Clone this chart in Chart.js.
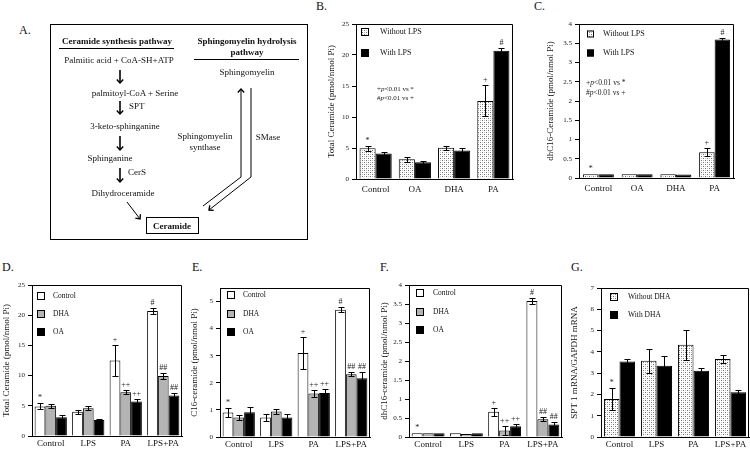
<!DOCTYPE html>
<html><head><meta charset="utf-8">
<script src="https://cdn.jsdelivr.net/npm/chart.js@4"></script>
<style>
html,body{margin:0;padding:0;background:#fff;width:750px;height:450px;overflow:hidden;position:relative}
canvas{position:absolute}
.lbl{position:absolute;font:12px "Liberation Serif";color:#111;line-height:14px}
#panelA{filter:grayscale(100%)}
</style></head><body>
<svg id="panelA" width="320" height="245" style="position:absolute;left:0;top:0" font-family="Liberation Serif" font-size="9" fill="#111">
<defs>
<marker id="ah" markerWidth="8" markerHeight="8" refX="4" refY="4" orient="auto" markerUnits="userSpaceOnUse">
<path d="M0.5,0.8 L4,4 L0.5,7.2" fill="none" stroke="#000" stroke-width="1.4"/>
</marker>
</defs>
<rect x="50.5" y="24.5" width="257" height="215" fill="none" stroke="#000" stroke-width="1"/>
<text x="117" y="44" text-anchor="middle" font-weight="bold">Ceramide synthesis pathway</text>
<line x1="59" y1="48.5" x2="174" y2="48.5" stroke="#000"/>
<text x="247" y="44" text-anchor="middle" font-weight="bold">Sphingomyelin hydrolysis</text>
<text x="247" y="55" text-anchor="middle" font-weight="bold">pathway</text>
<line x1="194" y1="59.5" x2="299" y2="59.5" stroke="#000"/>
<text x="119" y="63" text-anchor="middle">Palmitic acid + CoA-SH+ATP</text>
<line x1="120" y1="70" x2="120" y2="83" stroke="#000" stroke-width="1.6" marker-end="url(#ah)"/>
<text x="135" y="96" text-anchor="middle">palmitoyl-CoA + Serine</text>
<line x1="120" y1="101" x2="120" y2="114" stroke="#000" stroke-width="1.6" marker-end="url(#ah)"/>
<text x="129" y="109">SPT</text>
<text x="125" y="129" text-anchor="middle">3-keto-sphinganine</text>
<line x1="120" y1="136" x2="120" y2="150" stroke="#000" stroke-width="1.6" marker-end="url(#ah)"/>
<text x="110" y="161" text-anchor="middle">Sphinganine</text>
<line x1="120" y1="168" x2="120" y2="182" stroke="#000" stroke-width="1.6" marker-end="url(#ah)"/>
<text x="128" y="175">CerS</text>
<text x="123" y="196" text-anchor="middle">Dihydroceramide</text>
<line x1="127" y1="202" x2="140" y2="219" stroke="#000" stroke-width="1" marker-end="url(#ah)"/>
<rect x="146.5" y="217.5" width="52" height="16" fill="none" stroke="#000"/>
<text x="172" y="228.5" text-anchor="middle" font-weight="bold">Ceramide</text>
<text x="247" y="75" text-anchor="middle">Sphingomyelin</text>
<polyline points="203,206 241,177 241,89" fill="none" stroke="#000" stroke-width="1" marker-end="url(#ah)"/>
<polyline points="251,88 251,177 209,210" fill="none" stroke="#000" stroke-width="1" marker-end="url(#ah)"/>
<text x="205" y="139" text-anchor="middle">Sphingomyelin</text>
<text x="205" y="150" text-anchor="middle">synthase</text>
<text x="268" y="140" text-anchor="middle">SMase</text>
</svg>
<div class="lbl" style="left:19px;top:23px">A.</div>
<div class="lbl" style="left:316px;top:-1px">B.</div>
<div class="lbl" style="left:534px;top:-1px">C.</div>
<div class="lbl" style="left:2px;top:260px">D.</div>
<div class="lbl" style="left:192px;top:260px">E.</div>
<div class="lbl" style="left:380px;top:260px">F.</div>
<div class="lbl" style="left:571px;top:260px">G.</div>
<script>
// ---------------- data ----------------
const catsTop = ['Control', 'OA', 'DHA', 'PA'];
const catsBottom = ['Control', 'LPS', 'PA', 'LPS+PA'];

const bWithout = [4.95, 3.2, 5.05, 12.6];
const bWithoutErr = [0.45, 0.4, 0.3, 2.5];
const bWith = [4.1, 2.7, 4.6, 20.7];
const bWithErr = [0.3, 0.2, 0.35, 0.5];
const bWithoutMarks = ['*', '', '', '+'];
const bWithMarks = ['', '', '', '#'];

const cWithout = [0.1, 0.1, 0.1, 0.67];
const cWithoutErr = [0, 0, 0, 0.11];
const cWith = [0.1, 0.1, 0.09, 3.6];
const cWithErr = [0, 0, 0, 0.04];
const cWithoutMarks = ['*', '', '', '+'];
const cWithMarks = ['', '', '', '#'];

const dControl = [4.9, 4.0, 12.5, 20.7];
const dControlErr = [0.5, 0.3, 2.5, 0.5];
const dDHA = [5.0, 4.6, 7.25, 9.95];
const dDHAErr = [0.3, 0.3, 0.35, 0.55];
const dOA = [3.1, 2.65, 5.7, 6.7];
const dOAErr = [0.45, 0.2, 0.45, 0.5];

const eControl = [0.9, 0.72, 3.1, 4.7];
const eControlErr = [0.17, 0.12, 0.6, 0.1];
const eDHA = [0.72, 0.94, 1.61, 2.32];
const eDHAErr = [0.1, 0.1, 0.12, 0.08];
const eOA = [0.91, 0.72, 1.62, 2.17];
const eOAErr = [0.18, 0.12, 0.14, 0.22];

const fControl = [0.1, 0.1, 0.665, 3.58];
const fControlErr = [0, 0, 0.11, 0.07];
const fDHA = [0.1, 0.08, 0.17, 0.47];
const fDHAErr = [0, 0, 0.13, 0.05];
const fOA = [0.1, 0.1, 0.28, 0.33];
const fOAErr = [0, 0, 0.06, 0.06];

const controlMarks = ['*', '', '+', '#'];
const dhaMarks = ['', '', '++', '##'];
const oaMarks = ['', '', '++', '##'];

const gWithout = [1.78, 3.58, 4.33, 3.66];
const gWithoutErr = [0.5, 0.55, 0.7, 0.17];
const gWith = [3.55, 3.35, 3.11, 2.1];
const gWithErr = [0.1, 0.45, 0.12, 0.12];
const gWithoutMarks = ['*', '', '', ''];
const gWithMarks = ['', '', '', ''];

const noteLines = [['+', 'p', '<0.01 vs *'], ['#', 'p', '<0.01 vs +']];

// ---------------- styles ----------------
const FONT = 'Liberation Serif';
function dotPattern() {
  const c = document.createElement('canvas'); c.width = 4; c.height = 4;
  const g = c.getContext('2d');
  g.fillStyle = '#fff'; g.fillRect(0, 0, 4, 4);
  g.fillStyle = '#707070'; g.fillRect(0, 0, 1, 1); g.fillRect(2, 2, 1, 1);
  g.fillStyle = '#c0c0c0'; g.fillRect(2, 0, 1, 1); g.fillRect(0, 2, 1, 1);
  return g.createPattern(c, 'repeat');
}
const DOTS = dotPattern();
const GRAY = '#b4b4b4';
const BLACK = '#000';
const WHITE = '#fff';

const framePlugin = {
  id: 'frame',
  afterDraw(chart) {
    const { ctx, chartArea: a } = chart;
    ctx.save(); ctx.strokeStyle = '#000'; ctx.lineWidth = 1;
    ctx.beginPath();
    ctx.moveTo(a.left, a.top + 0.5); ctx.lineTo(a.right - 0.5, a.top + 0.5); ctx.lineTo(a.right - 0.5, a.bottom);
    ctx.stroke(); ctx.restore();
  }
};
const errPlugin = {
  id: 'errs',
  afterDatasetsDraw(chart) {
    const ctx = chart.ctx, y = chart.scales.y;
    ctx.save();
    chart.data.datasets.forEach((ds, di) => {
      const meta = chart.getDatasetMeta(di);
      meta.data.forEach((bar, i) => {
        const v = ds.data[i], e = (ds.errors || [])[i] || 0;
        const x = Math.round(bar.x) + 0.5;
        const yt = Math.round(y.getPixelForValue(v + e)) + 0.5;
        if (e > 0) {
          const yb = Math.round(y.getPixelForValue(v - e)) + 0.5;
          ctx.strokeStyle = '#000'; ctx.lineWidth = 1;
          ctx.beginPath();
          ctx.moveTo(x, yt); ctx.lineTo(x, yb);
          ctx.moveTo(x - 3, yt); ctx.lineTo(x + 3, yt);
          ctx.moveTo(x - 3, yb); ctx.lineTo(x + 3, yb);
          ctx.stroke();
        }
        const m = (ds.marks || [])[i];
        if (m) {
          ctx.fillStyle = '#222';
          ctx.font = `8px ${FONT}`;
          ctx.textAlign = 'center'; ctx.textBaseline = 'alphabetic';
          ctx.fillText(m, bar.x, yt - 4);
        }
      });
    });
    ctx.restore();
  }
};

function makeChart(pos, cats, sets, yOpt, legend, note) {
  const c = document.createElement('canvas');
  const w = pos.L + (pos.r - pos.l) + pos.R;
  const h = pos.T + (pos.b - pos.t) + pos.Bot;
  c.width = w; c.height = h;
  c.style.left = (pos.l - pos.L) + 'px'; c.style.top = (pos.t - pos.T) + 'px';
  c.style.width = w + 'px'; c.style.height = h + 'px';
  document.body.appendChild(c);
  const extras = {
    id: 'extras',
    afterDraw(chart) {
      const { ctx, chartArea: a } = chart;
      ctx.save();
      chart.data.datasets.forEach((ds, i) => {
        const cy = Math.round(a.top + legend.y + i * legend.dy);
        const bx = Math.round(a.left + legend.x);
        const s = legend.s;
        ctx.fillStyle = ds.backgroundColor; ctx.fillRect(bx, cy - s / 2, s, s);
        ctx.strokeStyle = '#000'; ctx.lineWidth = 1;
        ctx.strokeRect(bx + 0.5, cy - s / 2 + 0.5, s - 1, s - 1);
        ctx.fillStyle = '#111'; ctx.font = `${legend.fs}px ${FONT}`;
        ctx.textBaseline = 'middle'; ctx.textAlign = 'left';
        ctx.fillText(ds.label, a.left + legend.tx, cy);
      });
      if (note) {
        ctx.fillStyle = '#222'; ctx.textBaseline = 'middle'; ctx.textAlign = 'left';
        note.lines.forEach((segs, i) => {
          let x = a.left + note.x; const yy = a.top + note.y + i * note.dy;
          segs.forEach((sg, j) => {
            ctx.font = `${j === 1 ? 'italic ' : ''}${note.fs}px ${FONT}`;
            ctx.fillText(sg, x, yy); x += ctx.measureText(sg).width;
          });
        });
      }
      ctx.restore();
    }
  };
  return new Chart(c, {
    type: 'bar',
    data: {
      labels: cats,
      datasets: sets.map(d => ({
        label: d.label, data: d.data, errors: d.err, marks: d.marks,
        backgroundColor: d.fill, borderColor: '#000', borderWidth: 1,
        barPercentage: 1, categoryPercentage: pos.cp
      }))
    },
    options: {
      responsive: false, animation: false, devicePixelRatio: 1,
      layout: { padding: { left: 0, top: pos.T, right: pos.R, bottom: 0 } },
      plugins: { legend: { display: false }, tooltip: { enabled: false } },
      scales: {
        x: {
          grid: { display: false, drawTicks: false },
          border: { display: true, color: '#000' },
          ticks: { font: { family: FONT, size: 9 }, color: '#111', padding: pos.xpad, maxRotation: 0, autoSkip: false },
          afterFit(s) { s.height = pos.Bot; }
        },
        y: {
          min: 0, max: yOpt.max,
          ticks: { stepSize: yOpt.step, includeBounds: false, font: { family: FONT, size: 7 }, color: '#222', padding: 3,
            callback: v => String(+(+v).toFixed(2)) },
          grid: { drawOnChartArea: false, drawTicks: true, tickLength: 4, color: '#000' },
          border: { display: true, color: '#000' },
          title: { display: true, text: yOpt.title, font: { family: FONT, size: 9 }, color: '#111', padding: 0 },
          afterFit(s) { s.width = pos.L; }
        }
      }
    },
    plugins: [framePlugin, errPlugin, extras]
  });
}

// ---------------- panels ----------------
makeChart({ l: 356, t: 24, r: 513, b: 179, L: 30, T: 24, R: 20, Bot: 20, xpad: 5, cp: 0.82 }, catsTop, [
  { label: 'Without LPS', data: bWithout, err: bWithoutErr, marks: bWithoutMarks, fill: DOTS },
  { label: 'With LPS', data: bWith, err: bWithErr, marks: bWithMarks, fill: BLACK }
], { max: 25, step: 5, title: 'Total Ceramide (pmol/nmol Pi)' },
  { x: 5, y: 8, dy: 21, s: 8, tx: 24, fs: 8 },
  { x: 21, y: 65, dy: 9, fs: 7, lines: noteLines });

makeChart({ l: 579, t: 24, r: 734, b: 178, L: 34, T: 24, R: 12, Bot: 20, xpad: 5, cp: 0.8 }, catsTop, [
  { label: 'Without LPS', data: cWithout, err: cWithoutErr, marks: cWithoutMarks, fill: DOTS },
  { label: 'With LPS', data: cWith, err: cWithErr, marks: cWithMarks, fill: BLACK }
], { max: 4, step: 0.5, title: 'dhC16-Ceramide (pmol/nmol Pi)' },
  { x: 8, y: 10, dy: 19, s: 7, tx: 24, fs: 8 },
  { x: 7, y: 59, dy: 10, fs: 7.5, lines: noteLines });

makeChart({ l: 32, t: 285, r: 182, b: 436, L: 31, T: 12, R: 6, Bot: 14, xpad: 2, cp: 0.86 }, catsBottom, [
  { label: 'Control', data: dControl, err: dControlErr, marks: controlMarks, fill: WHITE },
  { label: 'DHA', data: dDHA, err: dDHAErr, marks: dhaMarks, fill: GRAY },
  { label: 'OA', data: dOA, err: dOAErr, marks: oaMarks, fill: BLACK }
], { max: 25, step: 5, title: 'Total Ceramide (pmol/nmol Pi)' },
  { x: 5, y: 11, dy: 18, s: 8, tx: 21, fs: 7.5 }, null);

makeChart({ l: 220, t: 288, r: 370, b: 437, L: 31, T: 12, R: 6, Bot: 13, xpad: 2, cp: 0.86 }, catsBottom, [
  { label: 'Control', data: eControl, err: eControlErr, marks: controlMarks, fill: WHITE },
  { label: 'DHA', data: eDHA, err: eDHAErr, marks: dhaMarks, fill: GRAY },
  { label: 'OA', data: eOA, err: eOAErr, marks: oaMarks, fill: BLACK }
], { max: 5.5, step: 1, title: 'C16-ceramide (pmol/nmol Pi)' },
  { x: 7, y: 7, dy: 18.5, s: 8, tx: 23, fs: 7.5 }, null);

makeChart({ l: 409, t: 285, r: 562, b: 437, L: 30, T: 12, R: 6, Bot: 13, xpad: 2, cp: 0.86 }, catsBottom, [
  { label: 'Control', data: fControl, err: fControlErr, marks: controlMarks, fill: WHITE },
  { label: 'DHA', data: fDHA, err: fDHAErr, marks: dhaMarks, fill: GRAY },
  { label: 'OA', data: fOA, err: fOAErr, marks: oaMarks, fill: BLACK }
], { max: 4, step: 0.5, title: 'dhC16-ceramide (pmol/nmol Pi)' },
  { x: 7, y: 8, dy: 18.5, s: 8, tx: 24, fs: 7.5 }, null);

makeChart({ l: 601, t: 288, r: 749, b: 437, L: 32, T: 12, R: 1, Bot: 13, xpad: 2, cp: 0.84 }, catsBottom, [
  { label: 'Without DHA', data: gWithout, err: gWithoutErr, marks: gWithoutMarks, fill: DOTS },
  { label: 'With DHA', data: gWith, err: gWithErr, marks: gWithMarks, fill: BLACK }
], { max: 7, step: 1, title: 'SPT 1 mRNA/GAPDH mRNA' },
  { x: 9, y: 9, dy: 18, s: 8, tx: 27, fs: 7.5 }, null);
</script>
</body></html>
